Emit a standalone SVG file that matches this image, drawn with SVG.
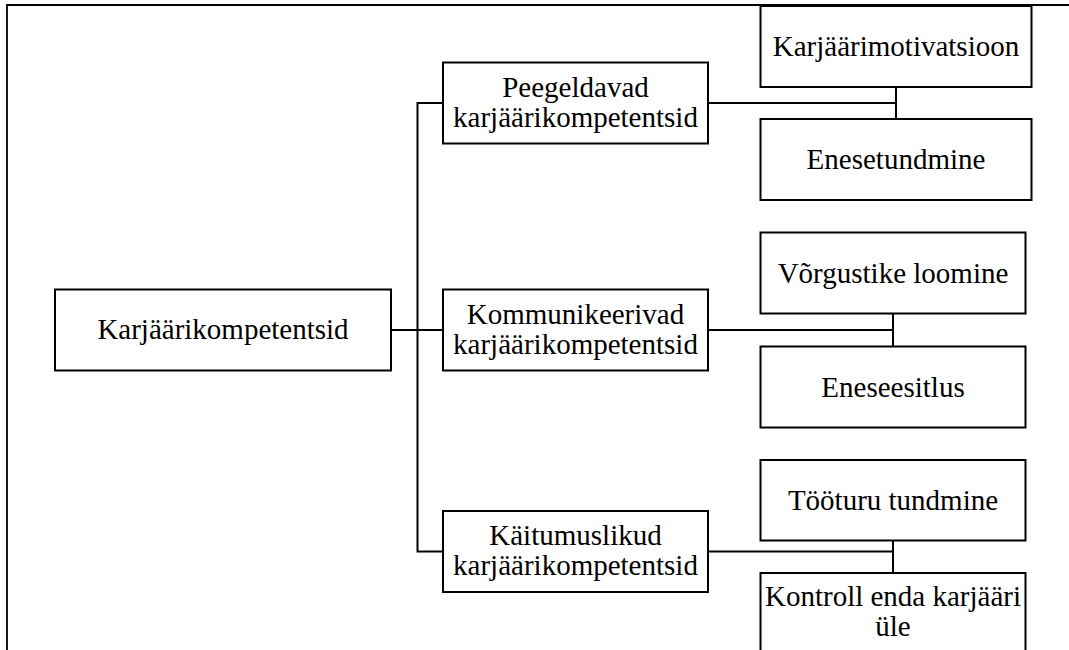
<svg xmlns="http://www.w3.org/2000/svg" width="1069" height="650" viewBox="0 0 1069 650">
<style>
.box{fill:#fff;stroke:#000;stroke-width:2}
.frame{fill:none;stroke:#000;stroke-width:1.8}
.conn{fill:none;stroke:#000;stroke-width:2}
.lbl{font-family:'Liberation Serif','Times New Roman',Tinos,'DejaVu Serif',serif;font-size:29px;fill:#000;text-anchor:middle}
</style>
<rect width="1069" height="650" fill="#fff"/>
<g id="frame"><path class="frame" d="M7,650 V5 H1069"/></g>
<g id="connectors">
<path class="conn" d="M391,330 H443"/>
<path class="conn" d="M443,103 H417.5 V551.5 H443"/>
<path class="conn" d="M708,103 H896"/>
<path class="conn" d="M896,87 V119"/>
<path class="conn" d="M708,330 H893"/>
<path class="conn" d="M893,313.5 V346.5"/>
<path class="conn" d="M708,551.5 H893"/>
<path class="conn" d="M893,540.5 V573"/>
</g>
<g class="lbl" font-family="Liberation Serif, serif">
<g id="root"><rect class="box" x="55" y="289.5" width="336" height="81"/><text x="223" y="339">Karjäärikompetentsid</text></g>
<g id="peegeldavad"><rect class="box" x="443" y="62.5" width="265" height="81"/><text x="575.5" y="97">Peegeldavad</text><text x="575.5" y="127">karjäärikompetentsid</text></g>
<g id="kommunikeerivad"><rect class="box" x="443" y="289.5" width="265" height="81"/><text x="575.5" y="324">Kommunikeerivad</text><text x="575.5" y="354">karjäärikompetentsid</text></g>
<g id="kaitumuslikud"><rect class="box" x="443" y="511" width="265" height="81"/><text x="575.5" y="545">Käitumuslikud</text><text x="575.5" y="575">karjäärikompetentsid</text></g>
<g id="karjaarimotivatsioon"><rect class="box" x="760.5" y="6" width="271" height="81"/><text x="896" y="56">Karjäärimotivatsioon</text></g>
<g id="enesetundmine"><rect class="box" x="760.5" y="119" width="271" height="81"/><text x="896" y="169">Enesetundmine</text></g>
<g id="vorgustike"><rect class="box" x="760.5" y="232.5" width="265" height="81"/><text x="893" y="282.5">Võrgustike loomine</text></g>
<g id="eneseesitlus"><rect class="box" x="760.5" y="346.5" width="265" height="81"/><text x="893" y="396.5">Eneseesitlus</text></g>
<g id="tooturu"><rect class="box" x="760.5" y="460" width="265" height="80.5"/><text x="893" y="510">Tööturu tundmine</text></g>
<g id="kontroll"><rect class="box" x="760.5" y="573" width="265" height="100"/><text x="893" y="606">Kontroll enda karjääri</text><text x="893" y="636">üle</text></g>
</g>
</svg>
